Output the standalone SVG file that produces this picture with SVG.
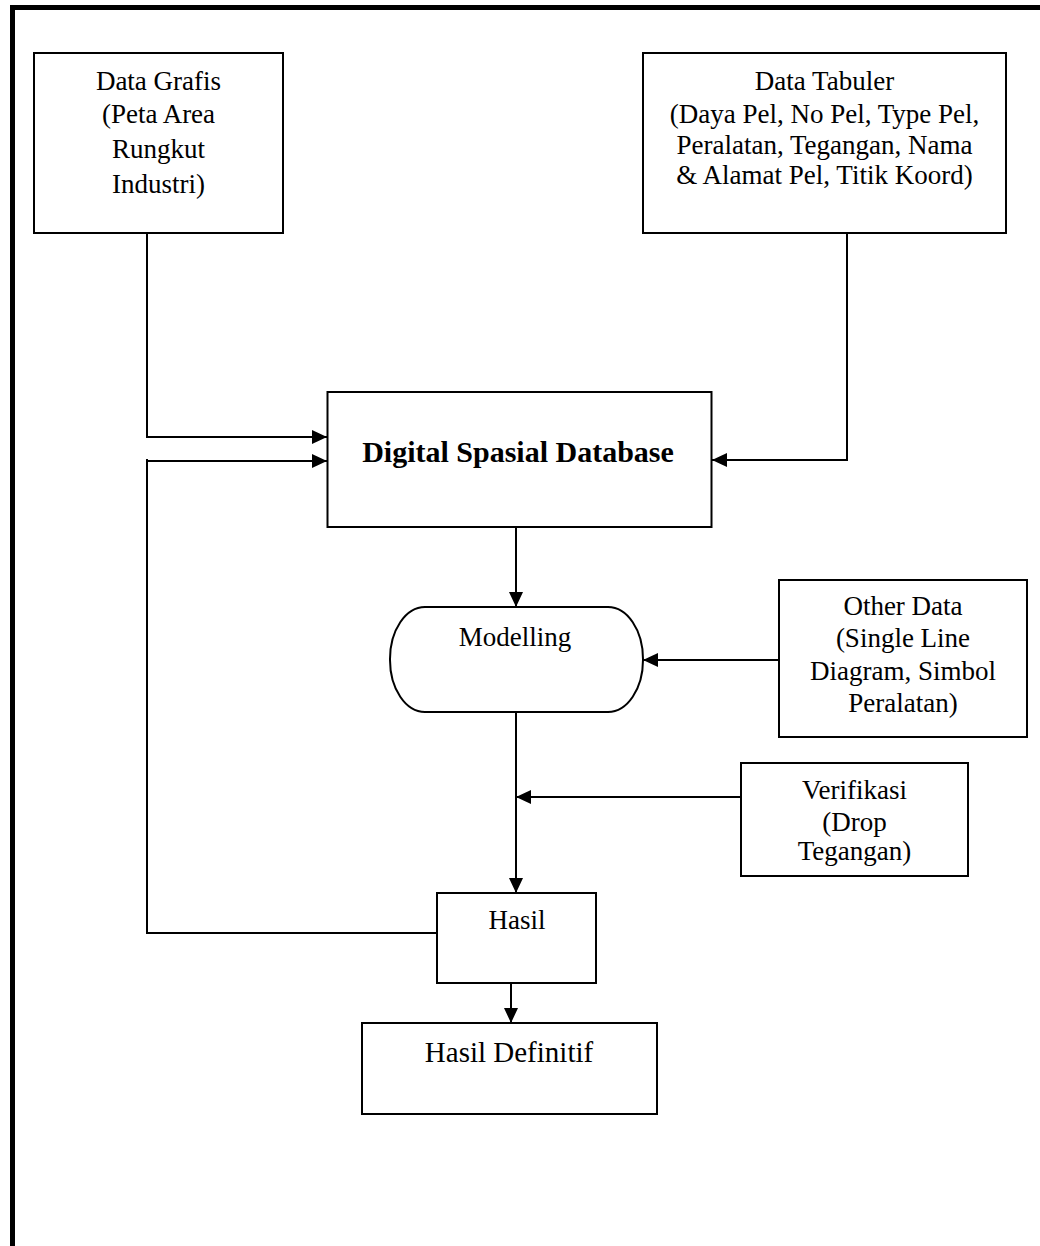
<svg xmlns="http://www.w3.org/2000/svg" width="1040" height="1246" viewBox="0 0 1040 1246">
<style>
.box{fill:#fff;stroke:#000;stroke-width:2}
.ln{fill:none;stroke:#000;stroke-width:2}
.t{font-family:"Liberation Serif","Times New Roman",serif;font-size:27px;fill:#000;text-anchor:middle}
.b{font-weight:bold;font-size:30px}
</style>
<defs>
<marker id="ah" markerUnits="userSpaceOnUse" markerWidth="16" markerHeight="16" viewBox="0 0 16 16" refX="15" refY="8" orient="auto">
<path d="M0,1 L15,8 L0,15 Z" fill="#000"/>
</marker>
</defs>
<rect width="1040" height="1246" fill="#fff"/>
<path d="M12.5,1246 V7.5 H1040" fill="none" stroke="#000" stroke-width="5"/>

<g id="connectors">
<path class="ln" d="M147,233 V437 H327" marker-end="url(#ah)"/>
<path class="ln" d="M437,933 H146 M147,933 V459 M147,461 H327" marker-end="url(#ah)"/>
<path class="ln" d="M847,233 V460 H712" marker-end="url(#ah)"/>
<path class="ln" d="M516,527 V607" marker-end="url(#ah)"/>
<path class="ln" d="M779,660 H643" marker-end="url(#ah)"/>
<path class="ln" d="M516,712 V893" marker-end="url(#ah)"/>
<path class="ln" d="M741,797 H516" marker-end="url(#ah)"/>
<path class="ln" d="M511,983 V1023" marker-end="url(#ah)"/>
</g>

<g id="data-grafis">
<rect class="box" x="34" y="53" width="249" height="180"/>
<text class="t" x="158.5" y="90">Data Grafis</text>
<text class="t" x="158.5" y="123">(Peta Area</text>
<text class="t" x="158.5" y="158">Rungkut</text>
<text class="t" x="158.5" y="193">Industri)</text>
</g>

<g id="data-tabuler">
<rect class="box" x="643" y="53" width="363" height="180"/>
<text class="t" x="824.5" y="90">Data Tabuler</text>
<text class="t" x="824.5" y="123">(Daya Pel, No Pel, Type Pel,</text>
<text class="t" x="824.5" y="154">Peralatan, Tegangan, Nama</text>
<text class="t" x="824.5" y="184">&amp; Alamat Pel, Titik Koord)</text>
</g>

<g id="digital-spasial-database">
<rect class="box" x="327.5" y="392" width="384" height="135"/>
<text class="t b" x="518" y="462">Digital Spasial Database</text>
</g>

<g id="modelling">
<rect class="box" x="390" y="607" width="253" height="105" rx="35" ry="52"/>
<text class="t" x="515" y="646">Modelling</text>
</g>

<g id="other-data">
<rect class="box" x="779" y="580" width="248" height="157"/>
<text class="t" x="903" y="615">Other Data</text>
<text class="t" x="903" y="647">(Single Line</text>
<text class="t" x="903" y="680">Diagram, Simbol</text>
<text class="t" x="903" y="712">Peralatan)</text>
</g>

<g id="verifikasi">
<rect class="box" x="741" y="763" width="227" height="113"/>
<text class="t" x="854.5" y="799">Verifikasi</text>
<text class="t" x="854.5" y="831">(Drop</text>
<text class="t" x="854.5" y="860">Tegangan)</text>
</g>

<g id="hasil">
<rect class="box" x="437" y="893" width="159" height="90"/>
<text class="t" x="517" y="929">Hasil</text>
</g>

<g id="hasil-definitif">
<rect class="box" x="362" y="1023" width="295" height="91"/>
<text class="t" x="509" y="1062" style="font-size:29px">Hasil Definitif</text>
</g>
</svg>
